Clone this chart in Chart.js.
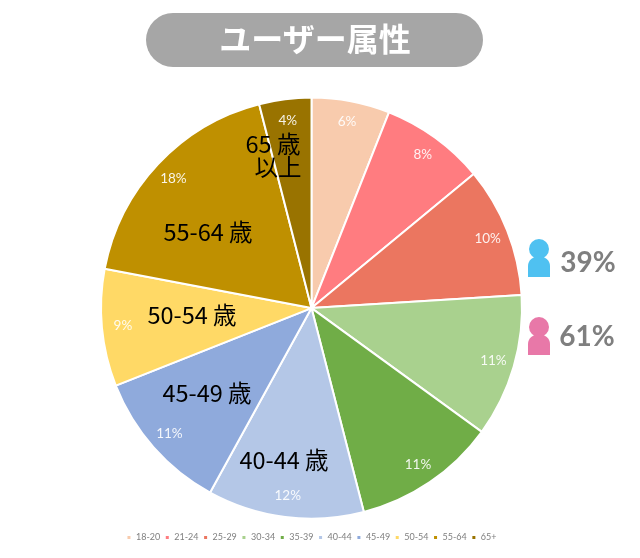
<!DOCTYPE html>
<html><head><meta charset="utf-8">
<style>
html,body{margin:0;padding:0;background:#fff;width:640px;height:558px;overflow:hidden}
#wrap{position:relative;width:640px;height:558px;font-family:"Noto Sans CJK JP","Noto Sans",sans-serif}
#c{position:absolute;left:0;top:0}
.t{position:absolute;white-space:nowrap;transform:translate(-50%,-50%);line-height:1}
.age{color:#000;font-size:23.5px}
#pill{position:absolute;left:146px;top:13px;width:337px;height:54px;border-radius:27px;background:#a6a6a6}
#title{color:#fff;font-weight:700;font-size:32px;left:315px;top:37px}
.g{color:#7f7f7f;font-weight:700;font-size:28px;font-family:Lato,"Noto Sans",sans-serif}
svg{position:absolute}
</style></head>
<body><div id="wrap">
<canvas id="c" width="640" height="558"></canvas>
<div id="pill"></div><div class="t" id="title">ユーザー属性</div>
<svg style="left:526px;top:238px" width="26" height="40" viewBox="0 0 26 40"><circle cx="13" cy="11" r="10" fill="#4fc1f1"/><path d="M2 39V28a11 10 0 0 1 22 0V39Z" fill="#4fc1f1"/></svg>
<svg style="left:526px;top:316px" width="26" height="40" viewBox="0 0 26 40"><circle cx="13" cy="11" r="10" fill="#e878a8"/><path d="M2 39V28a11 10 0 0 1 22 0V39Z" fill="#e878a8"/></svg>
<div class="t g" style="left:588px;top:261px">39%</div>
<div class="t g" style="left:587px;top:335px">61%</div>
<div class="t age" style="left:208px;top:232px">55-64 歳</div>
<div class="t age" style="left:192px;top:315px">50-54 歳</div>
<div class="t age" style="left:207px;top:393px">45-49 歳</div>
<div class="t age" style="left:284px;top:460px">40-44 歳</div>
<div class="t age" style="left:273px;top:144px">65 歳</div>
<div class="t age" style="left:278px;top:167px">以上</div>
</div>
<script src="https://cdn.jsdelivr.net/npm/chart.js@4/dist/chart.umd.min.js"></script>
<script>
const categories=["18-20","21-24","25-29","30-34","35-39","40-44","45-49","50-54","55-64","65+"];
const shares=[6,8,10,11,11,12,11,9,18,4];
const sliceColors=["#f8cbad","#ff7c80","#eb7660","#a9d18e","#70ad47","#b4c7e7","#8faadc","#ffd966","#bf9000","#997300"];
const pctLabels={id:"pctLabels",afterDatasetsDraw(chart){
  const ctx=chart.ctx;ctx.save();
  ctx.font='13.5px Lato,"Noto Sans",sans-serif';ctx.fillStyle="#fff";ctx.globalAlpha=.9;ctx.textAlign="center";ctx.textBaseline="middle";
  chart.getDatasetMeta(0).data.forEach((a,i)=>{
    const m=(a.startAngle+a.endAngle)/2,r=a.outerRadius*.9;
    ctx.fillText(shares[i]+"%",a.x+Math.cos(m)*r,a.y+Math.sin(m)*r);
  });
  ctx.restore();
}};
new Chart(document.getElementById("c"),{type:"pie",
 data:{labels:categories,datasets:[{data:shares,backgroundColor:sliceColors,borderColor:"#fff",borderWidth:2}]},
 options:{responsive:false,animation:false,
  layout:{padding:{top:96,left:100,right:117,bottom:6}},
  plugins:{tooltip:{enabled:false},
   legend:{position:"bottom",title:{display:true,text:" ",font:{size:1},padding:{top:7}},
    labels:{boxWidth:5,boxHeight:5,padding:4.6,color:"#808080",font:{size:9,family:'Lato,"Noto Sans",sans-serif'}}}}},
 plugins:[pctLabels]});
</script>
</body></html>
